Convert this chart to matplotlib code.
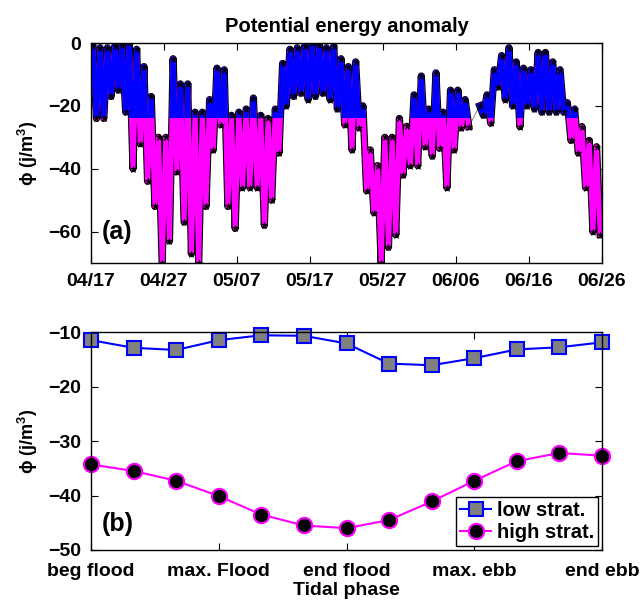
import numpy as np
import pandas as pd
import matplotlib
matplotlib.use('Agg')
import matplotlib.pyplot as plt
from matplotlib.patches import Rectangle

plt.rcParams['font.family'] = ['Liberation Sans', 'DejaVu Sans']
plt.rcParams['font.weight'] = 'bold'
plt.rcParams['axes.labelweight'] = 'bold'
plt.rcParams['axes.titleweight'] = 'bold'
plt.rcParams['axes.linewidth'] = 1.0
plt.rcParams['mathtext.fontset'] = 'custom'
plt.rcParams['mathtext.rm'] = 'Liberation Sans:bold'
plt.rcParams['mathtext.bf'] = 'Liberation Sans:bold'

# (a) daily upper / lower envelope of phi (04/17 .. 06/25)
phi_top = [-1, -1.5, -1.5, -1, -0.5, 0, -2, -7.5, -17, -30,
           -30, -5, -13, -13, -22, -22, -18, -8, -8.5, -23,
           -22, -21, -17.5, -23, -24, -21, -6.5, -2, -1.5, -1,
           0, -0.5, -1.5, -1, -5, -7.5, -6, -20, -34, -39,
           -30, -30, -24, -26.5, -16.5, -10.5, -21, -9.5, -22, -15,
           -15, -18, np.nan, -20, -16.5, -8.5, -4, -1.5, -6, -8,
           -8.5, -3, -3, -6, -8.5, -19, -21, -26.6, -31, -33]
phi_bot = [-24, -24, -17, -15, -22, -40, -32, -44, -52, -70,
           -63, -41, -57, -67, -70, -52, -34, -26, -52, -59,
           -46, -46, -46, -58, -50, -35, -20, -17, -16, -18,
           -17, -16, -18, -21, -26, -34, -27, -47, -54, -70,
           -65, -61, -42, -39, -39, -33, -36, -33.5, -46, -34,
           -27, -26.6, np.nan, -23, -25.5, -14, -18, -20, -26.6, -20,
           -21, -22, -22, -22, -22, -31, -35, -46, -60, -61]
date_ticks = ['04/17', '04/27', '05/07', '05/17', '05/27', '06/06', '06/16', '06/26']

# (b) mean phi over the tidal cycle
phase_labels = ['beg flood', 'max. Flood', 'end flood', 'max. ebb', 'end ebb']
low_strat = [-11.5, -12.9, -13.3, -11.5, -10.6, -10.7, -12.1,
             -15.8, -16.1, -14.8, -13.2, -12.8, -11.9]
high_strat = [-34.3, -35.5, -37.3, -40.1, -43.5, -45.5, -46.0,
              -44.5, -41.1, -37.3, -33.7, -32.2, -32.7]

start = pd.Timestamp('2011-04-17')
days = np.arange(len(phi_top))
offs = np.column_stack([days + 0.25, days + 0.75]).ravel()
phi = np.column_stack([phi_top, phi_bot]).ravel()
t = start + pd.to_timedelta(offs, unit='D')
ok = ~np.isnan(phi)

fig = plt.figure(figsize=(6.44, 6.0), dpi=100)
ax1 = fig.add_axes([91 / 644, 1 - 263 / 600, 511 / 644, 220 / 600])
ax2 = fig.add_axes([91 / 644, 1 - 550 / 600, 511 / 644, 218 / 600])

ylab = r'ϕ (j/m$^{3}$)'

ax1.plot(t[ok], phi[ok], color='0.45', lw=0.6)
ax1.plot(t, phi, color='k', lw=5.2)
ax1.plot(t, phi, color='magenta', lw=3.6)
blue, = ax1.plot(t, phi, color='blue', lw=3.6)
clip = Rectangle((0, 46 / 70), 1, 24 / 70, transform=ax1.transAxes)
blue.set_clip_path(clip)
ax1.plot(t, phi, 'k*', ms=4.5, mew=0.5)

tick_dates = [start + pd.Timedelta(days=10 * i) for i in range(len(date_ticks))]
ax1.set_xlim(tick_dates[0], tick_dates[-1])
ax1.set_xticks(tick_dates)
ax1.set_xticklabels(date_ticks)
ax1.set_ylim(-70, 0)
ax1.set_yticks([0, -20, -40, -60])
ax1.set_title('Potential energy anomaly', fontsize=14.5, pad=8)
ax1.set_ylabel(ylab, fontsize=13, labelpad=6)
ax1.text(0.022, 0.14, '(a)', transform=ax1.transAxes, fontsize=18,
         fontweight='bold', va='center')

x = np.arange(len(low_strat))
ax2.plot(x, low_strat, '-s', color='blue', lw=1.5, ms=10, mfc='0.5',
         mec='blue', mew=1.5, label='low strat.', clip_on=False)
ax2.plot(x, high_strat, '-o', color='magenta', lw=1.5, ms=11, mfc='k',
         mec='magenta', mew=1.5, label='high strat.', clip_on=False)
ax2.set_xlim(0, 12)
ax2.set_xticks([0, 3, 6, 9, 12])
ax2.set_xticklabels(phase_labels)
ax2.set_ylim(-50, -10)
ax2.set_yticks([-10, -20, -30, -40, -50])
ax2.set_xlabel('Tidal phase', fontsize=14, labelpad=2)
ax2.set_ylabel(ylab, fontsize=13, labelpad=6)
ax2.text(0.021, 0.12, '(b)', transform=ax2.transAxes, fontsize=18,
         fontweight='bold', va='center')
leg = ax2.legend(loc='lower right', fontsize=14.5, fancybox=False, framealpha=1,
                 edgecolor='k', handlelength=1.5, handletextpad=0.3,
                 borderpad=0.2, labelspacing=0.15, borderaxespad=0.2)
leg.get_frame().set_linewidth(1.0)

for ax in (ax1, ax2):
    ax.tick_params(direction='in', top=True, right=True, length=5, width=0.8,
                   labelsize=14, pad=7)
    for lab in ax.get_xticklabels() + ax.get_yticklabels():
        lab.set_fontweight('bold')
ax2.tick_params(axis='x', pad=9)

fig.savefig('out.png', dpi=100)
